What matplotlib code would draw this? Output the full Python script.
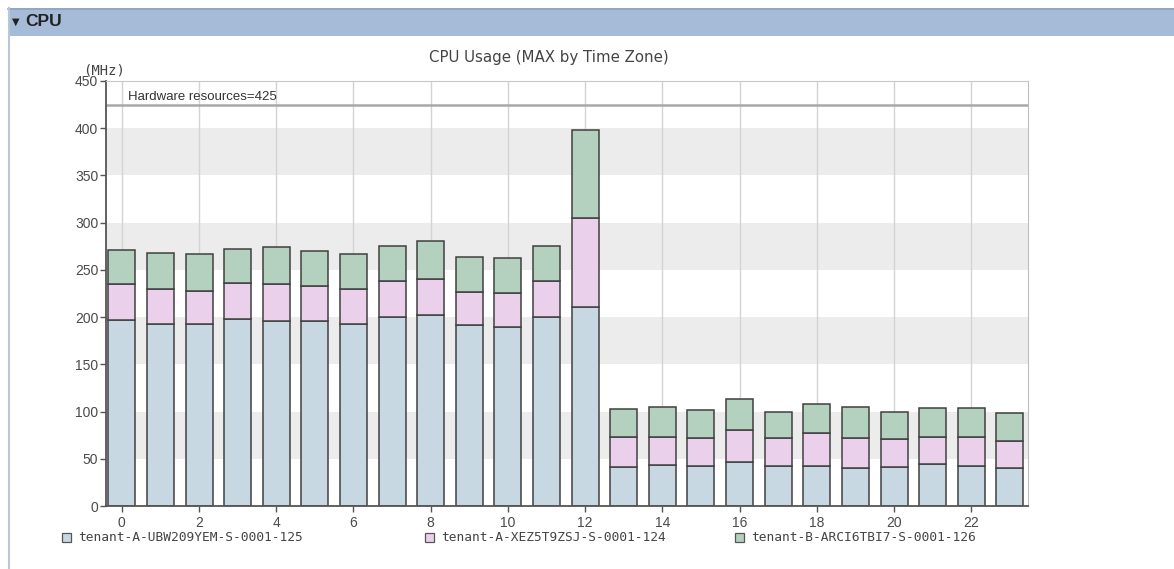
import numpy as np
import matplotlib.pyplot as plt
from matplotlib.patches import Rectangle
from matplotlib.lines import Line2D

plt.rcParams['font.family'] = ['Liberation Sans', 'DejaVu Sans']

# hourly MAX usage per tenant (MHz), stacked bottom to top
hours = np.arange(24)
tenant_ubw = [197, 193, 193, 198, 196, 196, 193, 200, 202, 192, 190, 200,
              211, 41, 43, 42, 47, 42, 42, 40, 41, 44, 42, 40]
tenant_xez = [38, 37, 35, 38, 39, 37, 37, 38, 38, 35, 36, 38,
              94, 32, 30, 30, 34, 30, 35, 32, 30, 29, 31, 29]
tenant_arc = [36, 38, 39, 36, 39, 37, 37, 37, 41, 37, 37, 37,
              93, 30, 32, 30, 32, 28, 31, 33, 29, 31, 31, 30]
series_names = ['tenant-A-UBW209YEM-S-0001-125',
                'tenant-A-XEZ5T9ZSJ-S-0001-124',
                'tenant-B-ARCI6TBI7-S-0001-126']
series_colors = ['#c8d8e3', '#ebd0ec', '#b3d1be']
hw_limit = 425

W, H = 1174, 569
fig = plt.figure(figsize=(W / 100, H / 100), dpi=100)
fig.patch.set_facecolor('white')

# panel header bar with "CPU" caption
fig.patches.append(Rectangle((8 / W, 1 - 36 / H), 1 - 8 / W, 28 / H,
                             transform=fig.transFigure, facecolor='#a6bbd7',
                             edgecolor='none', zorder=0))
fig.lines.append(Line2D([8 / W, 1], [1 - 8.5 / H, 1 - 8.5 / H],
                        transform=fig.transFigure, color='#8ea3c0', lw=1.2))
fig.lines.append(Line2D([8.5 / W, 8.5 / W], [0, 1 - 8 / H],
                        transform=fig.transFigure, color='#b8c6d8', lw=1.5))
fig.text(12 / W, 1 - 21.5 / H, '\u25bc', fontsize=7, color='#222222',
         family='DejaVu Sans', va='center')
fig.text(25 / W, 1 - 22 / H, 'CPU', fontsize=12.5, fontweight='bold',
         color='#222222', va='center')

ax = fig.add_axes([106 / W, 1 - 506 / H, 922 / W, 425 / H])

# alternating grey bands
for lo in range(50, 450, 100):
    ax.axhspan(lo, lo + 50, color='#ececec', lw=0, zorder=0)
for x in range(0, 24, 2):
    ax.axvline(x, color='#d4d4d4', lw=1, zorder=0.5)

bottom = np.zeros(24)
for vals, color, name in zip([tenant_ubw, tenant_xez, tenant_arc],
                             series_colors, series_names):
    ax.bar(hours, vals, width=0.7, bottom=bottom, color=color,
           edgecolor='#404040', linewidth=1.1, label=name, zorder=2)
    bottom += np.array(vals)

ax.axhline(hw_limit, color='#a8a8a8', lw=1.8, zorder=1)
ax.text(0.15, hw_limit + 1.5, 'Hardware resources=425', fontsize=9.5,
        color='#333333', va='bottom', ha='left')

ax.set_xlim(-0.41, 23.47)
ax.set_ylim(0, 450)
ax.set_yticks(np.arange(0, 451, 50))
ax.set_xticks(np.arange(0, 24, 2))
ax.tick_params(axis='both', colors='#555555', labelsize=10, length=4,
               width=1, labelcolor='#4a4a4a')
ax.tick_params(axis='y', pad=1.5)
for side in ['left', 'bottom']:
    ax.spines[side].set_color('#555555')
    ax.spines[side].set_linewidth(1.3)
ax.spines['top'].set_color('#c8c8c8')
ax.spines['top'].set_linestyle((0, (2, 1)))
ax.spines['right'].set_color('#bdbdbd')

fig.text(549 / W, 1 - 57 / H, 'CPU Usage (MAX by Time Zone)', fontsize=10.8,
         family='DejaVu Sans', color='#444444', ha='center', va='center')
fig.text(104 / W, 1 - 70 / H, '(MHz)', fontsize=10, color='#444444',
         family='DejaVu Sans Mono', ha='center', va='center')

# legend row under the axis
leg_x = [62, 425, 735]
for x0, color, name in zip(leg_x, series_colors, series_names):
    fig.patches.append(Rectangle((x0 / W, 1 - 542 / H), 9 / W, 9 / H,
                                 transform=fig.transFigure, facecolor=color,
                                 edgecolor='#555555', lw=0.9))
    fig.text((x0 + 16) / W, 1 - 537.5 / H, name, fontsize=9.3,
             family='DejaVu Sans Mono', color='#444444', va='center')

fig.savefig('out.png', dpi=100)
